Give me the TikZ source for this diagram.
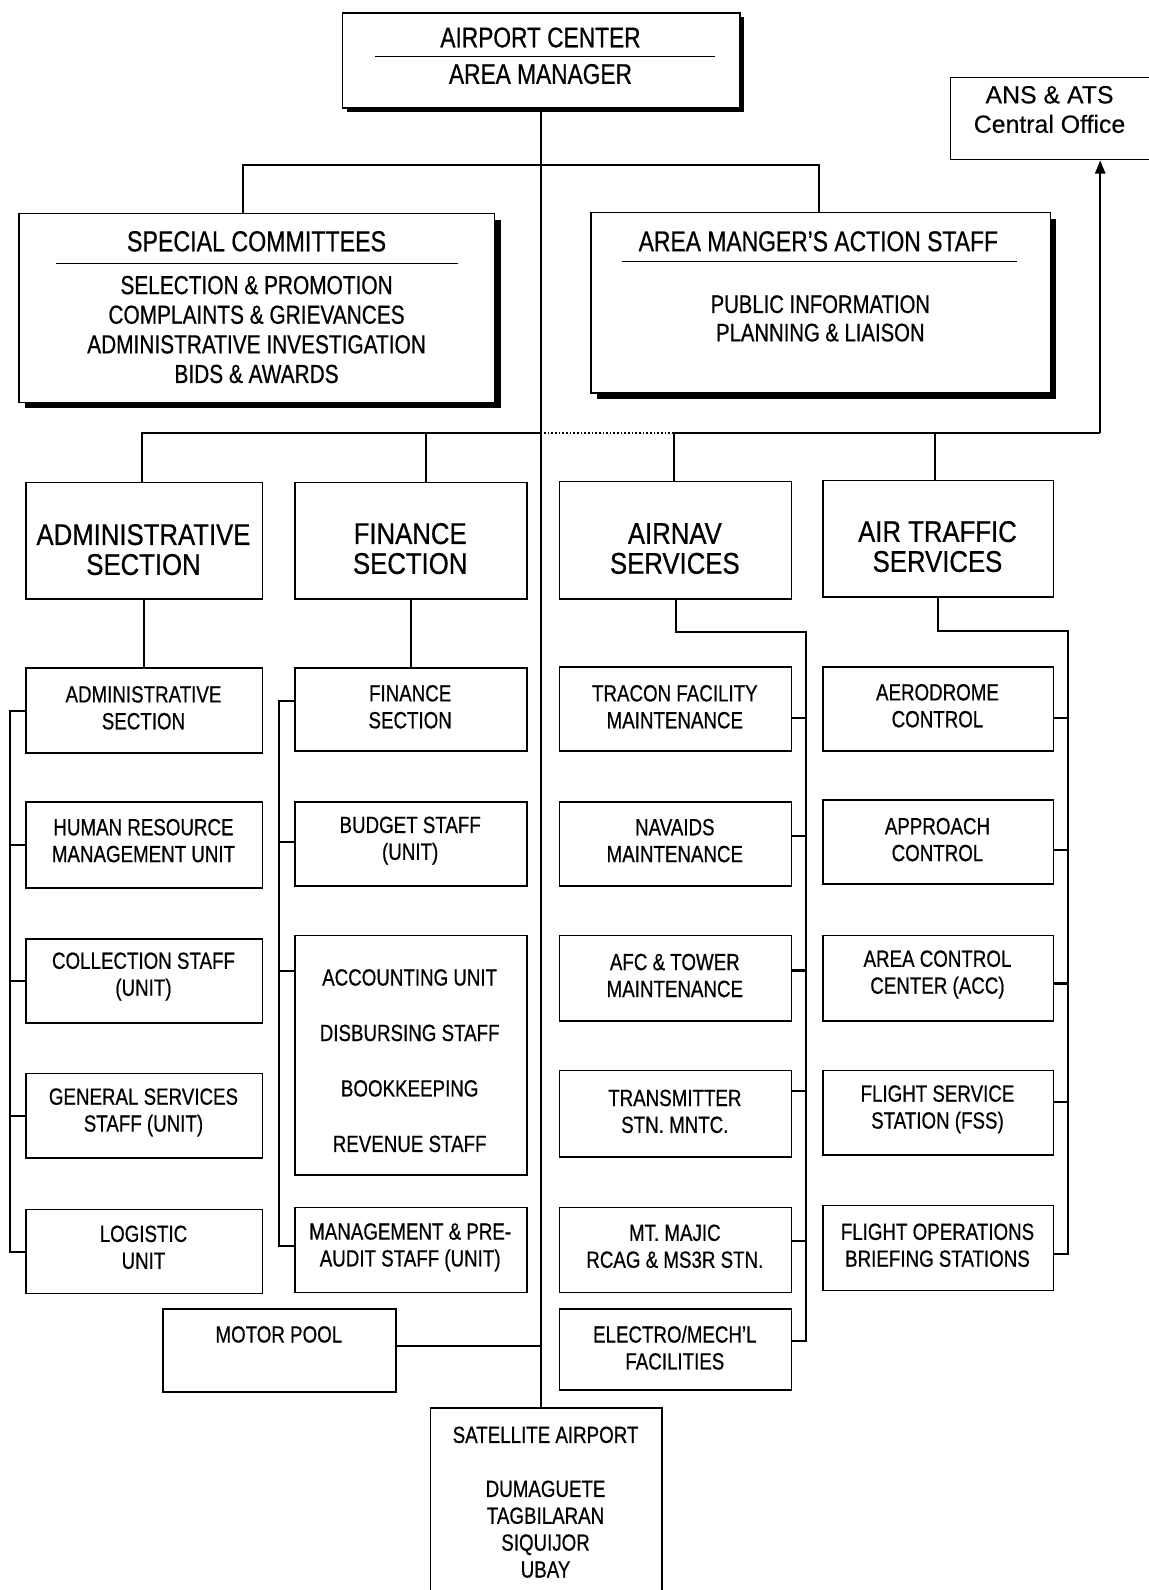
\documentclass[tikz,border=0pt]{standalone}
\usepackage{fontspec}
\setmainfont{Liberation Sans}[FakeStretch=0.8, FakeBold=0.6]
\newfontfamily\secfont{Liberation Sans}[FakeStretch=0.86, FakeBold=0.6]
\newfontfamily\ansfont{Liberation Sans}[FakeBold=0.3]
\usetikzlibrary{shadows,calc,arrows.meta}
\newcommand\orgbox[8]{%
  \node[box, minimum width={(#4-#2)*1pt}, minimum height={(#5-#3)*1pt}] (#1) at (#2,#3) {};
  \node[#8] (#1t) at ({(#2+#4)/2},#6) {#7};}
\newcommand\tickpt[3]{\path ($(#1.north #3)!#2!(#1.south #3)$) coordinate (p#1);}
\begin{document}
\begin{tikzpicture}[x=1pt,y=-1pt,
  box/.style={draw, line width=1.5pt, fill=white, inner sep=0pt, anchor=north west},
  small/.style={align=center, inner sep=0pt, font=\fontsize{23.1}{26.5}\selectfont},
  big/.style={align=center, inner sep=0pt, font=\secfont\fontsize{29.5}{29.5}\selectfont},
  link/.style={line width=2pt},
  sep/.style={line width=1.1pt},
  shad/.style={drop shadow={shadow xshift=#1, shadow yshift=-#1, fill=black, opacity=1}},
]
\path[use as bounding box, fill=white] (0,0) rectangle (1133,1568);

% top box
\node[box, shad=4pt, minimum width=392pt, minimum height=94pt] (top) at (337,12) {};
\node[inner sep=0pt, font=\fontsize{28}{30}\selectfont] (topt1) at (533,37) {AIRPORT CENTER};
\node[inner sep=0pt, font=\fontsize{28}{30}\selectfont] (topt2) at (533,73) {AREA MANAGER};
\draw[sep] (370,56) -- (705,56);

% ANS & ATS
\node[box, line width=1.2pt, minimum width=196pt, minimum height=81pt] (ans) at (937,76) {};
\node[inner sep=0pt, align=center, font=\ansfont\fontsize{24.5}{29}\selectfont] (anst) at (1035,108) {ANS \& ATS\\Central Office};

% special committees
\node[box, shad=6pt, minimum width=469pt, minimum height=186pt] (sc) at (18,210) {};
\node[inner sep=0pt, font=\fontsize{28.6}{30}\selectfont] (sct) at (253,238) {SPECIAL COMMITTEES};
\draw[sep] (55,260) -- (452,260);
\node[inner sep=0pt, align=center, font=\fontsize{25.7}{29.2}\selectfont] (scl) at (253,325) {SELECTION \& PROMOTION\\COMPLAINTS \& GRIEVANCES\\ADMINISTRATIVE INVESTIGATION\\BIDS \& AWARDS};

% area manager's action staff
\node[box, shad=6pt, minimum width=453pt, minimum height=178pt] (amas) at (582,209) {};
\node[inner sep=0pt, font=\fontsize{28.2}{30}\selectfont] (amast) at (807,238) {AREA MANGER'S ACTION STAFF};
\draw[sep] (613,258) -- (1003,258);
\node[inner sep=0pt, align=center, font=\fontsize{25}{28}\selectfont] (amasl) at (809,314) {PUBLIC INFORMATION\\PLANNING \& LIAISON};

% sections
\orgbox{adm}{25}{475}{258}{590}{542}{ADMINISTRATIVE\\SECTION}{big}
\orgbox{fin}{290}{475}{519}{590}{541}{FINANCE\\SECTION}{big}
\orgbox{airnav}{551}{474}{780}{590}{541}{AIRNAV\\SERVICES}{big}
\orgbox{ats}{811}{473}{1038}{588}{539}{AIR TRAFFIC\\SERVICES}{big}

% admin column
\orgbox{adm2}{25}{658}{258}{742}{698}{ADMINISTRATIVE\\SECTION}{small}
\orgbox{adm3}{25}{790}{258}{875}{829}{HUMAN RESOURCE\\MANAGEMENT UNIT}{small}
\orgbox{adm4}{25}{925}{258}{1008}{963}{COLLECTION STAFF\\(UNIT)}{small}
\orgbox{adm5}{25}{1058}{258}{1141}{1097}{GENERAL SERVICES\\STAFF (UNIT)}{small}
\orgbox{adm6}{25}{1192}{258}{1275}{1230}{LOGISTIC\\UNIT}{small}

% finance column
\orgbox{fin2}{290}{658}{519}{740}{697}{FINANCE\\SECTION}{small}
\orgbox{fin3}{290}{790}{519}{873}{829}{BUDGET STAFF\\(UNIT)}{small}
\node[box, minimum width=229pt, minimum height=236pt] (fin4) at (290,922) {};
\node[inner sep=0pt, align=center, font=\fontsize{23.1}{54.7}\selectfont] (fin4t) at (404,1046) {ACCOUNTING UNIT\\DISBURSING STAFF\\BOOKKEEPING\\REVENUE STAFF};
\orgbox{fin5}{290}{1190}{519}{1274}{1230}{MANAGEMENT \& PRE-\\AUDIT STAFF (UNIT)}{small}

% airnav column
\orgbox{an2}{551}{657}{780}{740}{697}{TRACON FACILITY\\MAINTENANCE}{small}
\orgbox{an3}{551}{790}{780}{873}{829}{NAVAIDS\\MAINTENANCE}{small}
\orgbox{an4}{551}{922}{780}{1006}{962}{AFC \& TOWER\\MAINTENANCE}{small}
\orgbox{an5}{551}{1055}{780}{1140}{1096}{TRANSMITTER\\STN. MNTC.}{small}
\orgbox{an6}{551}{1190}{780}{1274}{1229}{MT. MAJIC\\RCAG \& MS3R STN.}{small}
\orgbox{an7}{551}{1290}{780}{1370}{1329}{ELECTRO/MECH'L\\FACILITIES}{small}

% ats column
\orgbox{at2}{811}{657}{1038}{740}{696}{AERODROME\\CONTROL}{small}
\orgbox{at3}{811}{788}{1038}{871}{828}{APPROACH\\CONTROL}{small}
\orgbox{at4}{811}{922}{1038}{1006}{961}{AREA CONTROL\\CENTER (ACC)}{small}
\orgbox{at5}{811}{1055}{1038}{1138}{1094}{FLIGHT SERVICE\\STATION (FSS)}{small}
\orgbox{at6}{811}{1188}{1038}{1272}{1228}{FLIGHT OPERATIONS\\BRIEFING STATIONS}{small}

% bottom
\orgbox{mp}{160}{1290}{390}{1372}{1316}{MOTOR POOL}{small}
\node[box, minimum width=228pt, minimum height=220pt] (sat) at (424,1388) {};
\node[small] (satt1) at (538,1415) {SATELLITE AIRPORT};
\node[small] (satt2) at (538,1508) {DUMAGUETE\\TAGBILARAN\\SIQUIJOR\\UBAY};

% coordinates
\coordinate (j1) at (240,163);
\coordinate (j2) at (808,163);
\coordinate (k1) at (140,427);
\coordinate (k2) at (420,427);
\coordinate (k3) at (533,427);
\coordinate (k4) at (665,427);
\coordinate (k5) at (922,427);
\coordinate (k6) at (1085,427);
\coordinate (ab) at (10,700);
\coordinate (fb) at (275,700);
\coordinate (anb) at (795,623);
\coordinate (atb) at (1053,622);

% connectors
\draw[link] (top.south) -- (top.south |- sat.north);
\draw[link] (sc.north -| j1) |- (j2) -- (amas.north -| j2);
\draw[link] (adm.north -| k1) |- (k3);
\draw[link] (k2) -- (fin.north -| k2);
\draw[line width=1.6pt, dotted] (k3) -- (k4);
\draw[link] (airnav.north -| k4) |- (k6);
\draw[link] (k5) -- (ats.north -| k5);
\draw[link, -{Triangle[length=13pt,width=10pt]}] (k6) -- (ans.south -| k6);

\draw[link] (adm.south) -- (adm2.north);
\draw[link] (fin.south) -- (fin2.north);

\foreach \n in {adm2,adm3,adm4,adm5,adm6} {\tickpt{\n}{0.5}{west}}
\draw[link] (padm2) -| (ab |- padm6) -- (padm6);
\foreach \n in {adm3,adm4,adm5} {\draw[link] (p\n) -- (ab |- p\n);}

\tickpt{fin2}{0.4}{west}
\tickpt{fin3}{0.48}{west}
\tickpt{fin4}{0.15}{west}
\tickpt{fin5}{0.45}{west}
\draw[link] (pfin2) -| (fb |- pfin5) -- (pfin5);
\foreach \n in {fin3,fin4} {\draw[link] (p\n) -- (fb |- p\n);}

\tickpt{an2}{0.6}{east}
\tickpt{an3}{0.41}{east}
\tickpt{an4}{0.41}{east}
\tickpt{an5}{0.24}{east}
\tickpt{an6}{0.4}{east}
\tickpt{an7}{0.4}{east}
\draw[link] (airnav.south) |- (anb) |- (pan7);
\foreach \n in {an2,an3,an4,an5,an6} {\draw[link] (p\n) -- (anb |- p\n);}

\tickpt{at2}{0.6}{east}
\tickpt{at3}{0.59}{east}
\tickpt{at4}{0.56}{east}
\tickpt{at5}{0.38}{east}
\tickpt{at6}{0.57}{east}
\draw[link] (ats.south) |- (atb) |- (pat6);
\foreach \n in {at2,at3,at4,at5} {\draw[link] (p\n) -- (atb |- p\n);}

\tickpt{mp}{0.45}{east}
\draw[link] (pmp) -- (top.south |- pmp);
\end{tikzpicture}
\end{document}
